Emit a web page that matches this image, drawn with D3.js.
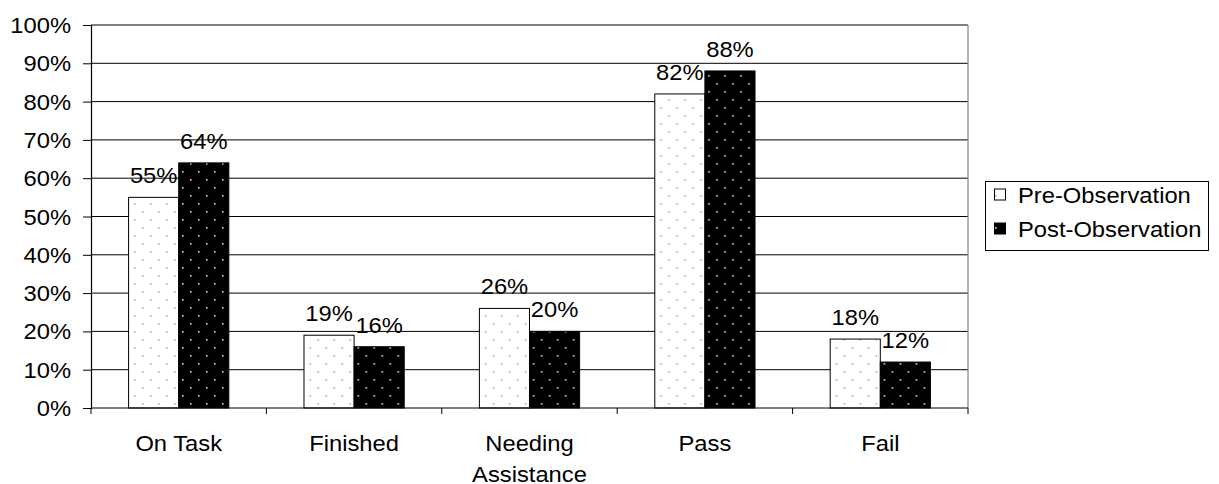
<!DOCTYPE html>
<html>
<head>
<meta charset="utf-8">
<script src="https://cdn.jsdelivr.net/npm/d3@7"></script>
<style>
  html, body { margin: 0; padding: 0; background: #fff; }
  svg { display: block; }
  text { font-family: "Liberation Sans", Arial, sans-serif; fill: #000; }
</style>
</head>
<body>
<svg id="chart" width="1219" height="484"></svg>
<script>
// Categories and series values (fractions)
const categories = ["On Task", "Finished", "Needing Assistance", "Pass", "Fail"];
const seriesNames = ["Pre-Observation", "Post-Observation"];
const preValues = [0.55, 0.19, 0.26, 0.82, 0.18];
const postValues = [0.64, 0.16, 0.20, 0.88, 0.12];
const yTicks = [0, 0.1, 0.2, 0.3, 0.4, 0.5, 0.6, 0.7, 0.8, 0.9, 1.0];

const svg = d3.select("#chart");
const plot = { left: 91, right: 968, top: 25, bottom: 408 };
const FONT = 22;
const SX = 1.08; // horizontal stretch of the lettering

const x = d3.scaleBand().domain(categories).range([plot.left, plot.right]).paddingInner(0).paddingOuter(0);
const xs = d3.scaleBand().domain(seriesNames).range([0, x.bandwidth()]).paddingInner(0).paddingOuter(0.75);
const y = d3.scaleLinear().domain([0, 1]).range([plot.bottom, plot.top]);

// Dot fill patterns
const defs = svg.append("defs");
function dotPattern(id, bg, dot) {
  const p = defs.append("pattern").attr("id", id).attr("patternUnits", "userSpaceOnUse")
    .attr("width", 16).attr("height", 16);
  p.append("rect").attr("width", 16).attr("height", 16).attr("fill", bg);
  p.append("rect").attr("x", 3).attr("y", 3).attr("width", 1.6).attr("height", 1.6).attr("fill", dot);
  p.append("rect").attr("x", 11).attr("y", 11).attr("width", 1.6).attr("height", 1.6).attr("fill", dot);
}
dotPattern("pre", "#ffffff", "#9fa6ff");
dotPattern("post", "#000000", "#d8d8d8");
const fills = { "Pre-Observation": "url(#pre)", "Post-Observation": "url(#post)" };

function stretchedText(g, tx, ty, str, anchor) {
  return g.append("text")
    .attr("transform", `translate(${tx},${ty}) scale(${SX},1)`)
    .attr("text-anchor", anchor)
    .style("font-size", FONT + "px")
    .text(str);
}

// Gridlines
svg.append("g").selectAll("line").data(yTicks.filter(d => d > 0)).join("line")
  .attr("x1", plot.left).attr("x2", plot.right)
  .attr("y1", d => y(d)).attr("y2", d => y(d))
  .attr("stroke", "#000").attr("stroke-width", 1);

// Right border of plot area
svg.append("line").attr("x1", plot.right).attr("x2", plot.right)
  .attr("y1", plot.top).attr("y2", plot.bottom)
  .attr("stroke", "#808080").attr("stroke-width", 1.2);

// Bars
const rows = categories.map((c, i) => ({ cat: c, values: [
  { series: seriesNames[0], v: preValues[i] },
  { series: seriesNames[1], v: postValues[i] }
]}));
const groups = svg.append("g").selectAll("g").data(rows).join("g")
  .attr("transform", d => `translate(${x(d.cat)},0)`);
groups.selectAll("rect").data(d => d.values).join("rect")
  .attr("x", d => xs(d.series))
  .attr("y", d => y(d.v))
  .attr("width", xs.bandwidth())
  .attr("height", d => y(0) - y(d.v))
  .attr("fill", d => fills[d.series])
  .attr("stroke", "#000").attr("stroke-width", 1);

// Value labels
groups.each(function(d) {
  const g = d3.select(this);
  d.values.forEach(v => {
    stretchedText(g, xs(v.series) + xs.bandwidth() / 2, y(v.v) - 14, Math.round(v.v * 100) + "%", "middle");
  });
});

// Y axis
const yAxis = svg.append("g").attr("transform", `translate(${plot.left},0)`)
  .call(d3.axisLeft(y).tickValues(yTicks).tickSize(8).tickFormat(() => ""));
yAxis.select(".domain").attr("stroke", "#000").attr("stroke-width", 1.2);
yAxis.selectAll(".tick line").attr("stroke", "#000");
yTicks.forEach(t => stretchedText(svg, 71, y(t) + 8, Math.round(t * 100) + "%", "end"));

// X axis
svg.append("line").attr("x1", plot.left).attr("x2", plot.right)
  .attr("y1", plot.bottom).attr("y2", plot.bottom).attr("stroke", "#000").attr("stroke-width", 1.2);
const bounds = categories.map(c => x(c)).concat([plot.right]);
svg.append("g").selectAll("line").data(bounds).join("line")
  .attr("x1", d => d).attr("x2", d => d)
  .attr("y1", plot.bottom).attr("y2", plot.bottom + 6)
  .attr("stroke", "#000");
categories.forEach(c => {
  const cx = x(c) + x.bandwidth() / 2;
  const words = c === "Needing Assistance" ? ["Needing", "Assistance"] : [c];
  words.forEach((w, i) => stretchedText(svg, cx, 451 + i * 31, w, "middle"));
});

// Legend
const legend = svg.append("g");
legend.append("rect").attr("x", 985.5).attr("y", 181.5).attr("width", 223).attr("height", 69)
  .attr("fill", "#fff").attr("stroke", "#000").attr("stroke-width", 1);
seriesNames.forEach((s, i) => {
  const cy = 195 + i * 34;
  legend.append("rect").attr("x", 994.5).attr("y", cy - 6).attr("width", 11).attr("height", 11)
    .attr("fill", fills[s]).attr("stroke", "#000").attr("stroke-width", 1);
  stretchedText(legend, 1018, cy + 8, s, "start");
});
</script>
</body>
</html>
